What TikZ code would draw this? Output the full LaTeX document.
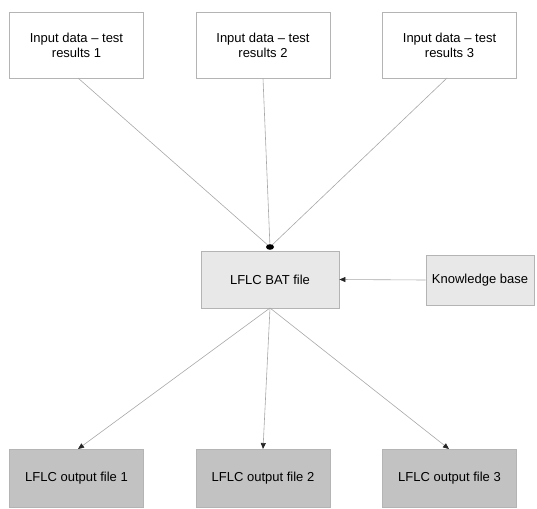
\documentclass[tikz,border=0pt]{standalone}
\usepackage{fontspec}
\setmainfont{Liberation Sans}
\usetikzlibrary{arrows.meta}
\definecolor{edge}{HTML}{A8A8A8}
\definecolor{boxline}{HTML}{B4B4B4}
\definecolor{lightfill}{HTML}{E8E8E8}
\definecolor{darkfill}{HTML}{C2C2C2}
\begin{document}
\begin{tikzpicture}[x=1pt,y=-1pt,
  box/.style={draw=boxline, line width=0.8pt, minimum width=134pt, minimum height=66pt, align=center, font=\fontsize{13}{15}\selectfont, inner sep=0pt},
  inbox/.style={box, fill=white},
  midbox/.style={box, fill=lightfill, minimum width=138pt, minimum height=57pt},
  outbox/.style={box, fill=darkfill, minimum height=58pt},
  conn/.style={draw=edge, line width=0.6pt},
  tip/.style={conn, -{Triangle[length=6pt,width=5pt,color=black!85]}}]
\useasboundingbox (0,0) rectangle (537,508);
\node[inbox] (in1) at (76.5,45) {Input data -- test\\results 1};
\node[inbox] (in2) at (263,45) {Input data -- test\\results 2};
\node[inbox] (in3) at (449.5,45) {Input data -- test\\results 3};
\node[midbox] (bat) at (270,279.5) {LFLC BAT file};
\node[box, fill=lightfill, minimum width=108pt, minimum height=50pt] (kb) at (480,280) {Knowledge base};
\node[outbox] (out1) at (76.5,478) {LFLC output file 1};
\node[outbox] (out2) at (263,478) {LFLC output file 2};
\node[outbox] (out3) at (449.5,478) {LFLC output file 3};
\coordinate (join) at (270,247);
\draw[conn] (78,78) -- (join);
\draw[conn] (in2.south) -- (join);
\draw[conn] (447,78) -- (join);
\fill[black] (join) ellipse (4pt and 2.8pt);
\draw[tip] (kb.west) -- (bat.east);
\coordinate (split) at (270,308);
\draw[tip] (split) -- (78,449);
\draw[tip] (split) -- (263,449);
\draw[tip] (split) -- (449,449);
\end{tikzpicture}
\end{document}
